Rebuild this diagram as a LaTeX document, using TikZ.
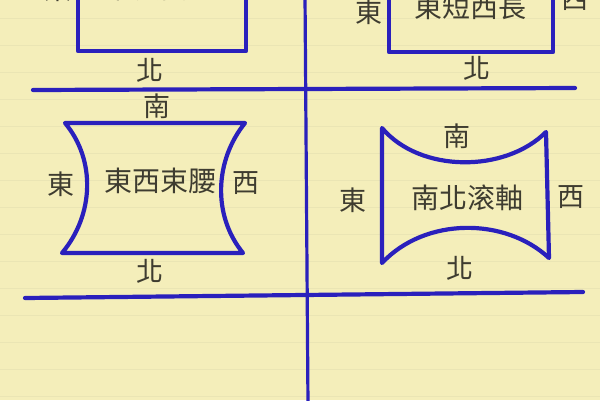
\documentclass[tikz,border=0pt]{standalone}
\usepackage{fontspec}
\newfontfamily\cjk{Noto Sans CJK TC}
\definecolor{paper}{RGB}{244,238,186}
\definecolor{rule}{RGB}{234,229,180}
\definecolor{ink}{RGB}{42,32,188}
\definecolor{pencil}{RGB}{62,60,48}
\tikzset{
  inkline/.style={draw=ink, line width=4.2pt, line cap=round, line join=round},
  lbl/.style={text=pencil, font=\cjk\fontsize{27}{27}\selectfont, inner sep=0pt},
  inner/.style={text=pencil, font=\cjk\fontsize{28}{28}\selectfont, inner sep=0pt},
}
\begin{document}
\begin{tikzpicture}[x=1pt,y=-1pt]
\useasboundingbox (0,0) rectangle (600,400);
\clip (0,0) rectangle (600,400);
\fill[paper] (0,0) rectangle (600,400);
\foreach \y in {18,45,72,99,126,153,180,207,234,261,288,315,342,369,396}
  \draw[rule, line width=0.8pt] (0,\y) -- (600,\y);

% axes
\coordinate (vt) at (305,-5);
\coordinate (vb) at (308,405);
\coordinate (h1l) at (33,90);
\coordinate (h1r) at (575,88);
\coordinate (h2l) at (25,298);
\coordinate (h2r) at (583,292);
\draw[inkline, line width=3.2pt] (vt) -- (vb);
\draw[inkline] (h1l) -- (h1r);
\draw[inkline] (h2l) -- (h2r);

% top-left shape (cut off)
\draw[inkline] (78,-10) -- (78,51) -- (246,51) -- (246,-10);
\node[inner] (tlin) at (160,-12) {東長西短};
\node[lbl] (tle) at (58,-11) {東};
\node[lbl] (tln) at (150,70) {北};

% top-right shape (cut off)
\draw[inkline] (389,-10) -- (389,52) -- (553,52) -- (553,-10);
\node[inner] (trin) at (470,7) {東短西長};
\node[lbl] (tre) at (369,12) {東};
\node[lbl] (trw) at (575,-1) {西};
\node[lbl] (trn) at (477,68) {北};

% middle-left: east-west waist
\draw[inkline] (65,123) -- (245,123)
  .. controls (215,160) and (212,215) .. (243,253)
  -- (62,253)
  .. controls (94,215) and (96,160) .. (65,123) -- cycle;
\node[inner] (mlin) at (160,181) {東西束腰};
\node[lbl] (mls) at (157,106) {南};
\node[lbl] (mln) at (150,271) {北};
\node[lbl] (mle) at (61,184) {東};
\node[lbl] (mlw) at (246,183) {西};

% middle-right: north-south roller
\draw[inkline] (382,128)
  .. controls (420,173) and (505,173) .. (546,132)
  -- (549,258)
  .. controls (505,217) and (425,217) .. (382,263)
  -- cycle;
\node[inner] (mrin) at (467,198) {南北滚軸};
\node[lbl] (mrs) at (457,136) {南};
\node[lbl] (mrn) at (460,268) {北};
\node[lbl] (mre) at (353,200) {東};
\node[lbl] (mrw) at (571,197) {西};
\end{tikzpicture}
\end{document}
